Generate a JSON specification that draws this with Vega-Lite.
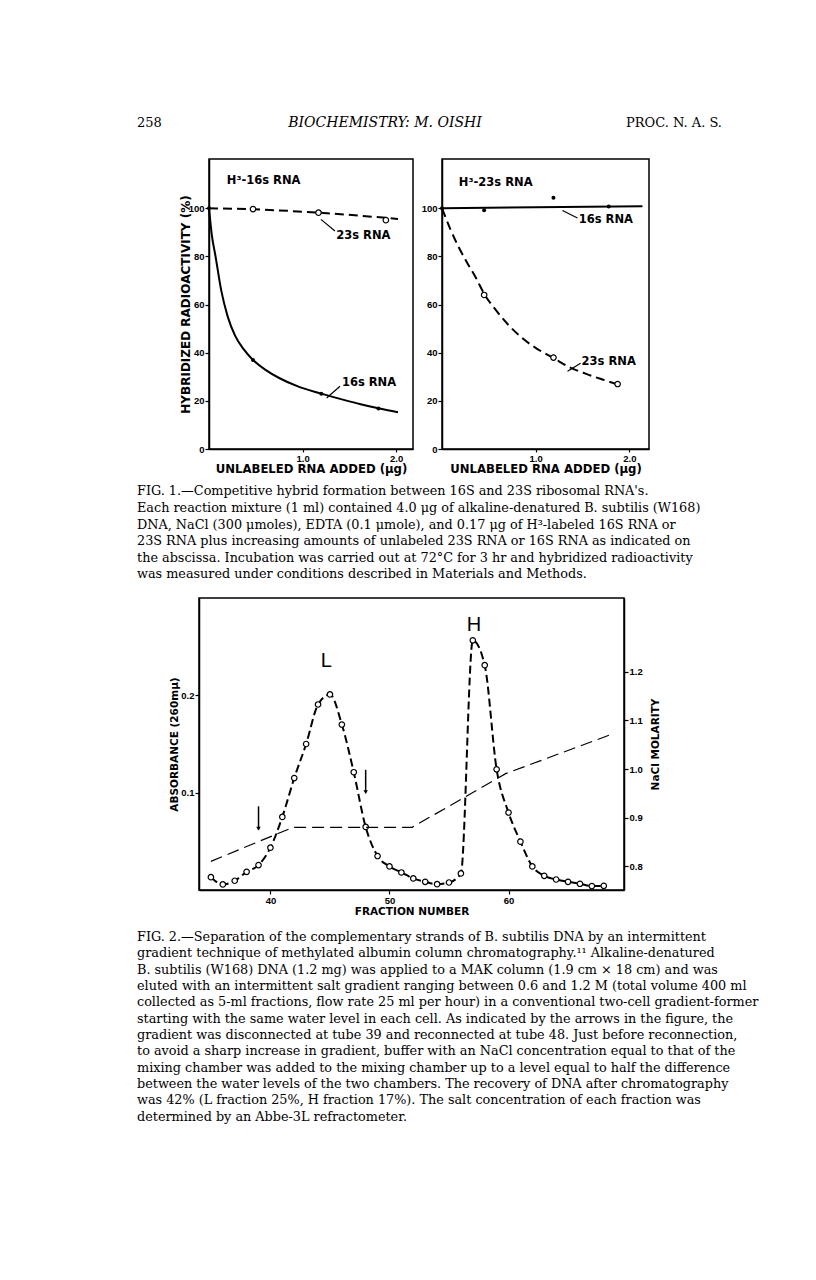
{
  "$schema": "https://vega.github.io/schema/vega-lite/v6.json",
  "background": "white",
  "padding": {"left": 137, "top": 88, "right": 0, "bottom": 0},
  "config": {
    "view": {"stroke": null},
    "font": "Liberation Sans",
    "axis": {
      "grid": false, "domainColor": "black", "domainWidth": 1.5, "tickColor": "black", "tickWidth": 1.2, "tickSize": 4,
      "labelColor": "black", "labelFont": "Liberation Sans", "labelFontWeight": "bold", "labelFontSize": 9.5, "labelPadding": 1,
      "titleColor": "black", "titleFont": "DejaVu Sans", "titleFontWeight": "bold", "titleFontSize": 10.5, "titlePadding": 2
    }
  },
  "spacing": 0,
  "bounds": "full",
  "vconcat": [
    {
      "width": 585, "height": 70,
      "layer": [
        {"data": {"values": [{"t": "258"}]}, "mark": {"type": "text", "align": "left", "font": "DejaVu Serif", "fontSize": 13, "color": "black"}, "encoding": {"x": {"datum": 0, "type": "quantitative", "scale": {"domain": [0, 1], "nice": false}, "axis": null}, "text": {"field": "t"}}},
        {"data": {"values": [{"t": "BIOCHEMISTRY:  M. OISHI"}]}, "mark": {"type": "text", "align": "center", "font": "DejaVu Serif", "fontStyle": "italic", "fontSize": 14, "color": "black"}, "encoding": {"x": {"datum": 0.424, "type": "quantitative"}, "text": {"field": "t"}}},
        {"data": {"values": [{"t": "PROC. N. A. S."}]}, "mark": {"type": "text", "align": "right", "font": "DejaVu Serif", "fontSize": 13, "color": "black"}, "encoding": {"x": {"datum": 1, "type": "quantitative"}, "text": {"field": "t"}}}
      ]
    },
    {
      "spacing": 29,
      "bounds": "flush",
      "hconcat": [
        {"width": 43, "height": 290, "data": {"values": [{"t": ""}]}, "mark": "text", "encoding": {"text": {"field": "t"}}},
        {
          "width": 204, "height": 290,
          "view": {"stroke": "black", "strokeWidth": 1.5},
          "encoding": {
            "x": {"field": "x", "type": "quantitative", "scale": {"domain": [0, 2.18], "nice": false, "zero": false}, "axis": {"title": "UNLABELED RNA ADDED (μg)", "values": [1, 2], "format": ".1f", "titlePadding": 1, "titleFontSize": 11.7, "tickSize": 3}},
            "y": {"field": "y", "type": "quantitative", "scale": {"domain": [0, 120.5], "nice": false}, "axis": {"title": "HYBRIDIZED RADIOACTIVITY (%)", "values": [0, 20, 40, 60, 80, 100], "titlePadding": -4, "titleFontSize": 12}}
          },
          "layer": [
            {"data": {"values": [{"x": 0, "y": 100}, {"x": 0.03, "y": 89}, {"x": 0.07, "y": 80}, {"x": 0.13, "y": 66}, {"x": 0.2, "y": 55}, {"x": 0.28, "y": 47}, {"x": 0.37, "y": 41.5}, {"x": 0.47, "y": 37}, {"x": 0.6, "y": 33}, {"x": 0.75, "y": 29.5}, {"x": 0.95, "y": 26}, {"x": 1.2, "y": 23}, {"x": 1.45, "y": 20.3}, {"x": 1.62, "y": 18.6}, {"x": 1.81, "y": 16.9}, {"x": 2.02, "y": 15.3}]},
             "mark": {"type": "line", "interpolate": "monotone", "color": "black", "strokeWidth": 2}},
            {"data": {"values": [{"x": 0, "y": 100}, {"x": 0.47, "y": 99.6}, {"x": 1.17, "y": 98.2}, {"x": 2.02, "y": 95.6}]},
             "mark": {"type": "line", "interpolate": "monotone", "color": "black", "strokeWidth": 2, "strokeDash": [9, 5]}},
            {"data": {"values": [{"x": 0, "y": 100}, {"x": 0.47, "y": 37}, {"x": 1.2, "y": 23}, {"x": 1.81, "y": 16.8}]},
             "mark": {"type": "circle", "color": "black", "size": 16, "opacity": 1}},
            {"data": {"values": [{"x": 0.47, "y": 99.7}, {"x": 1.17, "y": 98.2}, {"x": 1.89, "y": 95.1}]},
             "mark": {"type": "point", "shape": "circle", "filled": true, "fill": "white", "stroke": "black", "strokeWidth": 1.2, "size": 30, "opacity": 1}},
            {"data": {"values": [{"x": 1.196, "y": 95.4, "x2": 1.346, "y2": 90.6}, {"x": 1.257, "y": 21.2, "x2": 1.4, "y2": 26.1}]},
             "mark": {"type": "rule", "color": "black", "strokeWidth": 1.2},
             "encoding": {"x2": {"field": "x2"}, "y2": {"field": "y2"}}},
            {"data": {"values": [{"x": 1.36, "y": 88.5, "label": "23s RNA"}, {"x": 1.42, "y": 27.5, "label": "16s RNA"}]},
             "mark": {"type": "text", "align": "left", "font": "DejaVu Sans", "fontWeight": "bold", "fontSize": 11.5, "color": "black"},
             "encoding": {"text": {"field": "label"}}},
            {"data": {"values": [{"x": 0.19, "y": 111.4, "label": "H³-16s RNA"}]},
             "mark": {"type": "text", "align": "left", "font": "DejaVu Sans", "fontWeight": "bold", "fontSize": 11.5, "color": "black"},
             "encoding": {"text": {"field": "label"}}}
          ]
        },
        {
          "width": 207, "height": 290,
          "view": {"stroke": "black", "strokeWidth": 1.5},
          "encoding": {
            "x": {"field": "x", "type": "quantitative", "scale": {"domain": [0, 2.21], "nice": false, "zero": false}, "axis": {"title": "UNLABELED RNA ADDED (μg)", "values": [1, 2], "format": ".1f", "titlePadding": 1, "titleFontSize": 11.7, "tickSize": 3}},
            "y": {"field": "y", "type": "quantitative", "scale": {"domain": [0, 120.5], "nice": false}, "axis": {"title": null, "values": [0, 20, 40, 60, 80, 100]}}
          },
          "layer": [
            {"data": {"values": [{"x": 0, "y": 100}, {"x": 2.14, "y": 100.9}]},
             "mark": {"type": "line", "color": "black", "strokeWidth": 2}},
            {"data": {"values": [{"x": 0, "y": 100}, {"x": 0.09, "y": 91.3}, {"x": 0.18, "y": 83.7}, {"x": 0.27, "y": 77.3}, {"x": 0.36, "y": 71.3}, {"x": 0.45, "y": 64.5}, {"x": 0.58, "y": 57.5}, {"x": 0.71, "y": 51.5}, {"x": 0.85, "y": 46.3}, {"x": 1.0, "y": 42}, {"x": 1.19, "y": 37.8}, {"x": 1.36, "y": 34}, {"x": 1.54, "y": 31.2}, {"x": 1.72, "y": 28.8}, {"x": 1.88, "y": 26.8}]},
             "mark": {"type": "line", "interpolate": "monotone", "color": "black", "strokeWidth": 2, "strokeDash": [9, 5]}},
            {"data": {"values": [{"x": 0, "y": 100}, {"x": 0.45, "y": 99.2}, {"x": 1.19, "y": 104.4}, {"x": 1.78, "y": 100.8}]},
             "mark": {"type": "circle", "color": "black", "size": 16, "opacity": 1}},
            {"data": {"values": [{"x": 0.45, "y": 64}, {"x": 1.19, "y": 38}, {"x": 1.875, "y": 27}]},
             "mark": {"type": "point", "shape": "circle", "filled": true, "fill": "white", "stroke": "black", "strokeWidth": 1.2, "size": 30, "opacity": 1}},
            {"data": {"values": [{"x": 1.286, "y": 99.1, "x2": 1.446, "y2": 96.0}, {"x": 1.34, "y": 32.3, "x2": 1.48, "y2": 35.6}]},
             "mark": {"type": "rule", "color": "black", "strokeWidth": 1.2},
             "encoding": {"x2": {"field": "x2"}, "y2": {"field": "y2"}}},
            {"data": {"values": [{"x": 1.46, "y": 95, "label": "16s RNA"}, {"x": 1.49, "y": 36.2, "label": "23s RNA"}]},
             "mark": {"type": "text", "align": "left", "font": "DejaVu Sans", "fontWeight": "bold", "fontSize": 11.5, "color": "black"},
             "encoding": {"text": {"field": "label"}}},
            {"data": {"values": [{"x": 0.18, "y": 110.7, "label": "H³-23s RNA"}]},
             "mark": {"type": "text", "align": "left", "font": "DejaVu Sans", "fontWeight": "bold", "fontSize": 11.5, "color": "black"},
             "encoding": {"text": {"field": "label"}}}
          ]
        }
      ]
    },
    {
      "width": 585, "height": 120.9,
      "data": {"values": [
        {"line": 1, "t": "\u00a0\u00a0\u00a0\u00a0FIG. 1.—Competitive hybrid formation between 16S and 23S ribosomal RNA's."},
        {"line": 2, "t": "Each reaction mixture (1 ml) contained 4.0 μg of alkaline-denatured B. subtilis (W168)"},
        {"line": 3, "t": "DNA, NaCl (300 μmoles), EDTA (0.1 μmole), and 0.17 μg of H³-labeled 16S RNA or"},
        {"line": 4, "t": "23S RNA plus increasing amounts of unlabeled 23S RNA or 16S RNA as indicated on"},
        {"line": 5, "t": "the abscissa.  Incubation was carried out at 72°C for 3 hr and hybridized radioactivity"},
        {"line": 6, "t": "was measured under conditions described in Materials and Methods."}
      ]},
      "mark": {"type": "text", "align": "left", "baseline": "middle", "font": "DejaVu Serif", "fontSize": 12.8, "color": "black"},
      "encoding": {
        "x": {"datum": 0, "type": "quantitative", "scale": {"domain": [0, 1]}, "axis": null},
        "y": {"field": "line", "type": "quantitative", "scale": {"domain": [0.078, 7.361], "reverse": true, "nice": false, "zero": false}, "axis": null},
        "text": {"field": "t"}
      }
    },
    {
      "spacing": 0,
      "bounds": "flush",
      "hconcat": [
        {"width": 62, "height": 292, "data": {"values": [{"t": ""}]}, "mark": "text", "encoding": {"text": {"field": "t"}}},
        {
          "width": 425, "height": 292,
          "view": {"stroke": "black", "strokeWidth": 1.5},
          "encoding": {"x": {"field": "fraction", "type": "quantitative", "scale": {"domain": [34, 69.7], "nice": false, "zero": false}, "axis": {"title": "FRACTION NUMBER", "values": [40, 50, 60]}}},
          "layer": [
            {
              "encoding": {"y": {"field": "a", "type": "quantitative", "scale": {"domain": [0, 0.3], "nice": false}, "axis": {"title": "ABSORBANCE (260mμ)", "values": [0.1, 0.2], "format": ".1f", "titlePadding": 1}}},
              "layer": [
                {"data": {"name": "absorb"}, "mark": {"type": "line", "interpolate": "monotone", "color": "black", "strokeWidth": 2, "strokeDash": [8, 4]}},
                {"data": {"name": "absorb"}, "mark": {"type": "point", "shape": "circle", "filled": true, "fill": "white", "stroke": "black", "strokeWidth": 1.2, "size": 30, "opacity": 1}},
                {"data": {"values": [{"fraction": 39, "a": 0.086, "a2": 0.062}, {"fraction": 48, "a": 0.1235, "a2": 0.1}]},
                 "mark": {"type": "rule", "color": "black", "strokeWidth": 1.5},
                 "encoding": {"y2": {"field": "a2"}}},
                {"data": {"values": [{"fraction": 39, "a": 0.063}, {"fraction": 48, "a": 0.1005}]},
                 "mark": {"type": "point", "shape": "triangle-down", "filled": true, "color": "black", "size": 20, "opacity": 1}},
                {"data": {"values": [{"fraction": 44.7, "a": 0.235, "label": "L"}, {"fraction": 57.1, "a": 0.272, "label": "H"}]},
                 "mark": {"type": "text", "font": "Liberation Sans", "fontSize": 20, "color": "black"},
                 "encoding": {"text": {"field": "label"}}}
              ]
            },
            {
              "data": {"values": [{"fraction": 35, "m": 0.81}, {"fraction": 41.9, "m": 0.88}, {"fraction": 51.9, "m": 0.88}, {"fraction": 59.8, "m": 0.991}, {"fraction": 68.5, "m": 1.07}]},
              "mark": {"type": "line", "color": "black", "strokeWidth": 1.2, "strokeDash": [12, 6]},
              "encoding": {"y": {"field": "m", "type": "quantitative", "scale": {"domain": [0.751, 1.352], "nice": false, "zero": false}, "axis": {"orient": "right", "title": "NaCl MOLARITY", "values": [0.8, 0.9, 1.0, 1.1, 1.2], "format": ".1f", "titleAngle": 270, "titleBaseline": "top", "titlePadding": 8}}}
            }
          ],
          "resolve": {"scale": {"y": "independent"}}
        }
      ]
    },
    {
      "width": 585, "height": 250,
      "data": {"values": [
        {"line": 1, "t": "\u00a0\u00a0\u00a0\u00a0FIG. 2.—Separation of the complementary strands of B. subtilis DNA by an intermittent"},
        {"line": 2, "t": "gradient technique of methylated albumin column chromatography.¹¹  Alkaline-denatured"},
        {"line": 3, "t": "B. subtilis (W168) DNA (1.2 mg) was applied to a MAK column (1.9 cm × 18 cm) and was"},
        {"line": 4, "t": "eluted with an intermittent salt gradient ranging between 0.6 and 1.2 M (total volume 400 ml"},
        {"line": 5, "t": "collected as 5-ml fractions, flow rate 25 ml per hour) in a conventional two-cell gradient-former"},
        {"line": 6, "t": "starting with the same water level in each cell.  As indicated by the arrows in the figure, the"},
        {"line": 7, "t": "gradient was disconnected at tube 39 and reconnected at tube 48.  Just before reconnection,"},
        {"line": 8, "t": "to avoid a sharp increase in gradient, buffer with an NaCl concentration equal to that of the"},
        {"line": 9, "t": "mixing chamber was added to the mixing chamber up to a level equal to half the difference"},
        {"line": 10, "t": "between the water levels of the two chambers.  The recovery of DNA after chromatography"},
        {"line": 11, "t": "was 42% (L fraction 25%, H fraction 17%).  The salt concentration of each fraction was"},
        {"line": 12, "t": "determined by an Abbe-3L refractometer."}
      ]},
      "mark": {"type": "text", "align": "left", "baseline": "middle", "font": "DejaVu Serif", "fontSize": 12.8, "color": "black"},
      "encoding": {
        "x": {"datum": 0, "type": "quantitative", "scale": {"domain": [0, 1]}, "axis": null},
        "y": {"field": "line", "type": "quantitative", "scale": {"domain": [-0.154, 15.127], "reverse": true, "nice": false, "zero": false}, "axis": null},
        "text": {"field": "t"}
      }
    }
  ],
  "datasets": {
    "absorb": [
      {"fraction": 35, "a": 0.0132}, {"fraction": 36, "a": 0.0057}, {"fraction": 37, "a": 0.0095}, {"fraction": 38, "a": 0.0187},
      {"fraction": 39, "a": 0.0256}, {"fraction": 40, "a": 0.0435}, {"fraction": 41, "a": 0.0751}, {"fraction": 42, "a": 0.115},
      {"fraction": 43, "a": 0.150}, {"fraction": 44, "a": 0.1906}, {"fraction": 45, "a": 0.2009}, {"fraction": 46, "a": 0.170},
      {"fraction": 47, "a": 0.121}, {"fraction": 48, "a": 0.0648}, {"fraction": 49, "a": 0.0349}, {"fraction": 50, "a": 0.0242},
      {"fraction": 51, "a": 0.018}, {"fraction": 52, "a": 0.0119}, {"fraction": 53, "a": 0.0084}, {"fraction": 54, "a": 0.006},
      {"fraction": 55, "a": 0.0077}, {"fraction": 56, "a": 0.017}, {"fraction": 57, "a": 0.2565}, {"fraction": 58, "a": 0.231},
      {"fraction": 59, "a": 0.124}, {"fraction": 60, "a": 0.0796}, {"fraction": 61, "a": 0.0497}, {"fraction": 62, "a": 0.0242},
      {"fraction": 63, "a": 0.0146}, {"fraction": 64, "a": 0.0108}, {"fraction": 65, "a": 0.0084}, {"fraction": 66, "a": 0.0064},
      {"fraction": 67, "a": 0.004}, {"fraction": 68, "a": 0.0043}
    ]
  }
}
